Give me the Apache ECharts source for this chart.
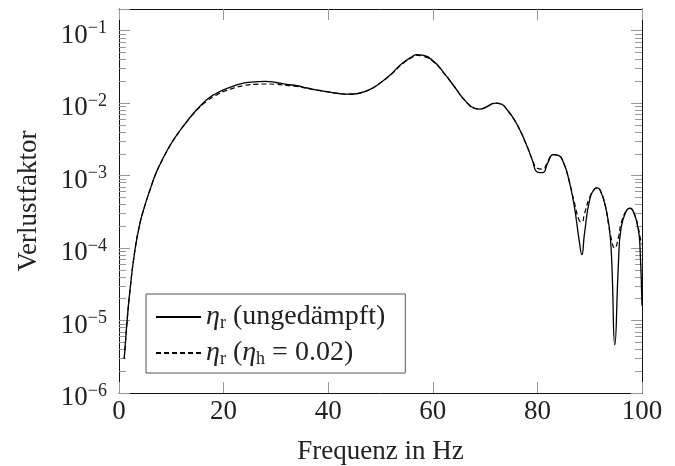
<!DOCTYPE html>
<html lang="de">
<head>
    <meta charset="utf-8">
    <script src="https://cdn.jsdelivr.net/npm/echarts@6/dist/echarts.min.js"></script>
    <style>
        html, body { margin: 0; padding: 0; background: #fff; }
        #chart { width: 675px; height: 466px; }
    </style>
</head>
<body>
<div id="chart"></div>
<script>
    // Frequenz in Hz
    var freq = [1, 1.5, 2, 3, 4, 5, 6, 7, 8, 9, 10, 11, 12, 13, 14, 15, 16, 17, 18, 19, 20, 22, 24, 26, 28, 30,
        32, 34, 36, 38, 40, 42, 44, 46, 48, 50, 52, 54, 56, 57, 58, 60, 62, 64, 66, 68, 69, 70, 72, 73, 74, 76,
        78, 79, 80, 81, 82, 83, 84, 85, 86, 87, 88, 88.5, 89, 90, 91, 91.5, 92, 93, 94, 94.8, 95.5, 96, 97, 97.7,
        98.5, 99.3, 99.6, 100];
    // Verlustfaktor ungedaempft
    var undamped = [3.0e-6, 8.9e-6, 2.24e-5, 8.9e-5, 2.19e-4, 3.98e-4, 6.6e-4, 1.05e-3, 1.51e-3, 2.09e-3, 2.79e-3,
        3.59e-3, 4.52e-3, 5.62e-3, 6.92e-3, 8.32e-3, 9.89e-3, 1.15e-2, 1.29e-2, 1.41e-2, 1.53e-2, 1.74e-2, 1.91e-2,
        1.97e-2, 2.0e-2, 1.93e-2, 1.82e-2, 1.74e-2, 1.62e-2, 1.51e-2, 1.43e-2, 1.36e-2, 1.33e-2, 1.38e-2, 1.55e-2,
        1.91e-2, 2.51e-2, 3.47e-2, 4.37e-2, 4.68e-2, 4.62e-2, 3.89e-2, 2.69e-2, 1.74e-2, 1.12e-2, 8.5e-3, 8.3e-3,
        8.7e-3, 1.0e-2, 9.8e-3, 8.5e-3, 5.25e-3, 2.57e-3, 1.66e-3, 1.12e-3, 1.10e-3, 1.51e-3, 1.95e-3, 1.91e-3,
        1.51e-3, 8.9e-4, 4.0e-4, 1.26e-4, 8.1e-5, 1.58e-4, 4.68e-4, 6.6e-4, 6.8e-4, 6.3e-4, 3.8e-4, 1.26e-4,
        4.6e-6, 6.3e-5, 1.9e-4, 3.24e-4, 3.55e-4, 3.0e-4, 1.78e-4, 1.1e-4, 1.6e-5];
    // Verlustfaktor gedaempft (eta_h = 0.02)
    var damped = [3.0e-6, 8.9e-6, 2.24e-5, 8.9e-5, 2.19e-4, 3.98e-4, 6.6e-4, 1.05e-3, 1.51e-3, 2.09e-3, 2.79e-3,
        3.59e-3, 4.52e-3, 5.62e-3, 6.85e-3, 8.2e-3, 9.6e-3, 1.1e-2, 1.22e-2, 1.34e-2, 1.45e-2, 1.62e-2, 1.76e-2,
        1.82e-2, 1.84e-2, 1.82e-2, 1.76e-2, 1.70e-2, 1.60e-2, 1.50e-2, 1.43e-2, 1.36e-2, 1.33e-2, 1.38e-2, 1.55e-2,
        1.91e-2, 2.48e-2, 3.40e-2, 4.27e-2, 4.57e-2, 4.47e-2, 3.80e-2, 2.66e-2, 1.74e-2, 1.12e-2, 8.5e-3, 8.3e-3,
        8.7e-3, 1.0e-2, 9.8e-3, 8.5e-3, 5.25e-3, 2.57e-3, 1.70e-3, 1.26e-3, 1.23e-3, 1.58e-3, 1.95e-3, 1.91e-3,
        1.51e-3, 8.9e-4, 4.47e-4, 2.4e-4, 2.29e-4, 3.0e-4, 5.0e-4, 6.6e-4, 6.8e-4, 6.3e-4, 3.8e-4, 1.48e-4,
        1.0e-4, 1.41e-4, 2.19e-4, 3.3e-4, 3.55e-4, 3.0e-4, 1.9e-4, 1.45e-4, 1.12e-4];
    var yMajor = [1e-6, 1e-5, 1e-4, 1e-3, 1e-2, 1e-1];
    var yMinor = [];
    yMajor.forEach(function (d) {
        for (var k = 2; k <= 9; k++) yMinor.push(d * k);
    });

    var font = 'Liberation Serif';
    var tickColor = '#999';

    function pairs(ys) {
        return freq.map(function (f, i) { return [f, ys[i]]; });
    }

    function yLabel(v) {
        var l = Math.log10(v);
        var e = Math.round(l);
        if (Math.abs(l - e) > 1e-6) return '';
        return '{b|10}{s|\u2212' + (-e) + '}';
    }

    function legendText(name) {
        if (name === 'ungedämpft') return '{i|η}{sub|r} (ungedämpft)';
        return '{i|η}{sub|r} ({i|η}{sub|h} = 0.02)';
    }

    var yBase = {
        type: 'log',
        logBase: 10,
        min: 1e-6,
        max: Math.pow(10, -0.7),
        splitLine: {show: false}
    };

    var chart = echarts.init(document.getElementById('chart'));
    chart.setOption({
        animation: false,
        backgroundColor: '#fff',
        grid: {left: 119, right: 33, top: 9, bottom: 73, outerBoundsMode: 'none', containLabel: false},
        legend: {
            orient: 'vertical',
            left: 146,
            top: 294,
            padding: [8, 20, 5, 9],
            itemGap: 6,
            itemWidth: 45,
            itemHeight: 14,
            borderColor: '#555',
            borderWidth: 1,
            backgroundColor: '#fff',
            itemStyle: {opacity: 0},
            formatter: legendText,
            textStyle: {
                fontFamily: font,
                fontSize: 28,
                color: '#222',
                lineHeight: 30,
                rich: {
                    i: {fontFamily: font, fontSize: 28, fontStyle: 'italic', color: '#222', lineHeight: 30},
                    sub: {fontFamily: font, fontSize: 18, color: '#222', verticalAlign: 'bottom', lineHeight: 17}
                }
            },
            data: ['ungedämpft', 'gedämpft']
        },
        xAxis: [{
            type: 'value',
            min: 0,
            max: 100,
            interval: 20,
            position: 'bottom',
            name: 'Frequenz in Hz',
            nameLocation: 'middle',
            nameGap: 45,
            nameTextStyle: {fontFamily: font, fontSize: 27, color: '#222'},
            axisLine: {lineStyle: {color: '#111', width: 1}},
            axisTick: {inside: true, length: 11, lineStyle: {color: tickColor}},
            axisLabel: {fontFamily: font, fontSize: 27, color: '#222', margin: 5},
            splitLine: {show: false}
        }, {
            type: 'value',
            min: 0,
            max: 100,
            interval: 20,
            position: 'top',
            axisLine: {lineStyle: {color: '#111', width: 1}},
            axisTick: {inside: true, length: 11, lineStyle: {color: tickColor}},
            axisLabel: {show: false},
            splitLine: {show: false}
        }],
        yAxis: [Object.assign({}, yBase, {
            position: 'left',
            name: 'Verlustfaktor',
            nameLocation: 'middle',
            nameGap: 77,
            nameRotate: 90,
            nameTextStyle: {fontFamily: font, fontSize: 27, color: '#222'},
            axisLine: {show: true, lineStyle: {color: '#111', width: 1}},
            axisTick: {inside: true, length: 11, lineStyle: {color: tickColor}},
            axisLabel: {
                margin: 12,
                padding: [10, 0, 0, 0],
                formatter: yLabel,
                rich: {
                    b: {fontFamily: font, fontSize: 27, color: '#222', lineHeight: 32},
                    s: {fontFamily: font, fontSize: 18, color: '#222', verticalAlign: 'top', lineHeight: 14}
                }
            }
        }), Object.assign({}, yBase, {
            position: 'left',
            axisLine: {show: false},
            axisTick: {inside: true, length: 7, customValues: yMinor, lineStyle: {color: tickColor}},
            axisLabel: {show: false}
        }), Object.assign({}, yBase, {
            position: 'right',
            axisLine: {show: true, lineStyle: {color: '#111', width: 1}},
            axisTick: {inside: true, length: 11, customValues: yMajor, lineStyle: {color: tickColor}},
            axisLabel: {show: false}
        }), Object.assign({}, yBase, {
            position: 'right',
            axisLine: {show: false},
            axisTick: {inside: true, length: 7, customValues: yMinor, lineStyle: {color: tickColor}},
            axisLabel: {show: false}
        })],
        series: [{
            name: 'gedämpft',
            type: 'line',
            xAxisIndex: 0,
            yAxisIndex: 0,
            data: pairs(damped),
            showSymbol: false,
            symbol: 'none',
            smooth: 0.5,
            lineStyle: {color: '#000', width: 1.2, type: [5, 3]},
            itemStyle: {color: '#000'}
        }, {
            name: 'ungedämpft',
            type: 'line',
            xAxisIndex: 0,
            yAxisIndex: 0,
            data: pairs(undamped),
            showSymbol: false,
            symbol: 'none',
            smooth: 0.5,
            lineStyle: {color: '#000', width: 1.3},
            itemStyle: {color: '#000'}
        }]
    });
</script>
</body>
</html>
